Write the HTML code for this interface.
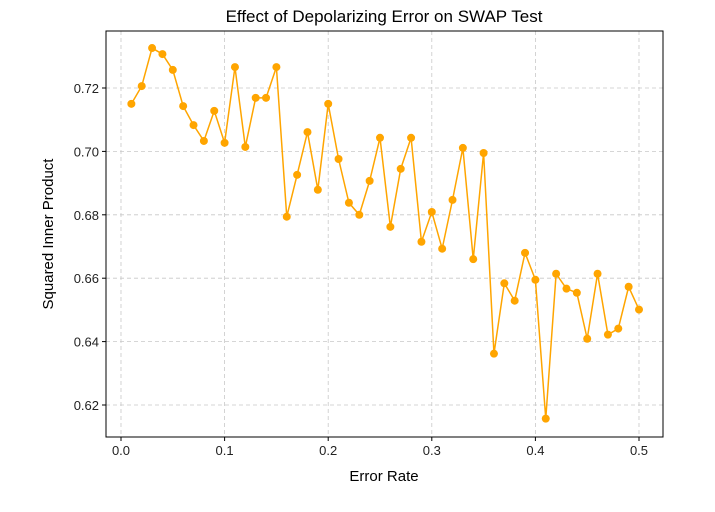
<!DOCTYPE html>
<html><head><meta charset="utf-8"><style>
body{margin:0;background:#fff;font-family:"Liberation Sans","DejaVu Sans",sans-serif;}
</style></head><body>
<svg id="chart" width="715" height="507" xmlns="http://www.w3.org/2000/svg"></svg>
<script>
const xValues=[0.01,0.02,0.03,0.04,0.05,0.06,0.07,0.08,0.09,0.10,0.11,0.12,0.13,0.14,0.15,0.16,0.17,0.18,0.19,0.20,0.21,0.22,0.23,0.24,0.25,0.26,0.27,0.28,0.29,0.30,0.31,0.32,0.33,0.34,0.35,0.36,0.37,0.38,0.39,0.40,0.41,0.42,0.43,0.44,0.45,0.46,0.47,0.48,0.49,0.50];
const yValues=[0.7150,0.7206,0.7326,0.7307,0.7257,0.7143,0.7083,0.7033,0.7128,0.7027,0.7266,0.7014,0.7169,0.7169,0.7266,0.6794,0.6926,0.7061,0.6879,0.7150,0.6976,0.6838,0.6800,0.6907,0.7043,0.6762,0.6945,0.7043,0.6715,0.6809,0.6693,0.6847,0.7011,0.6660,0.6995,0.6362,0.6584,0.6529,0.6680,0.6595,0.6157,0.6614,0.6567,0.6554,0.6409,0.6614,0.6422,0.6441,0.6573,0.6501];
const xTicks=[0,0.1,0.2,0.3,0.4,0.5];
const xTickLabels=["0.0","0.1","0.2","0.3","0.4","0.5"];
const yTicks=[0.62,0.64,0.66,0.68,0.70,0.72];
const yTickLabels=["0.62","0.64","0.66","0.68","0.70","0.72"];
const svg=document.getElementById('chart');
const NS='http://www.w3.org/2000/svg';
const L=106,R=663,T=31,B=437;
const X=v=>121+(v-0)*1036;
const Y=v=>88-(v-0.72)*3170;
function mk(t,a,p){const e=document.createElementNS(NS,t);for(const k in a)e.setAttribute(k,a[k]);(p||svg).appendChild(e);return e;}
xTicks.forEach((t,i)=>{
 const g=mk('line',{x1:X(t),x2:X(t),y1:T,y2:B,stroke:'#c8c8c8','stroke-dasharray':'4,3','stroke-width':0.8});
 
 mk('line',{x1:X(t),x2:X(t),y1:B,y2:B+4,stroke:'#000'});
 const tx=mk('text',{x:X(t),y:B+18,'text-anchor':'middle','font-size':13,fill:'#222'});tx.textContent=xTickLabels[i];
 
});
yTicks.forEach((t,i)=>{
 const g=mk('line',{x1:L,x2:R,y1:Y(t),y2:Y(t),stroke:'#c8c8c8','stroke-dasharray':'4,3','stroke-width':0.8});
 
 mk('line',{x1:L-4,x2:L,y1:Y(t),y2:Y(t),stroke:'#000'});
 const tx=mk('text',{x:L-7,y:Y(t)+5,'text-anchor':'end','font-size':13,fill:'#222'});tx.textContent=yTickLabels[i];
 
});
const fr=mk('rect',{x:L,y:T,width:R-L,height:B-T,fill:'none',stroke:'#000','stroke-width':1});

const pl=mk('polyline',{points:xValues.map((x,i)=>X(x)+','+Y(yValues[i])).join(' '),fill:'none',stroke:'#ffa500','stroke-width':1.5});

xValues.forEach((x,i)=>{const c=mk('circle',{cx:X(x),cy:Y(yValues[i]),r:4,fill:'#ffa500'});
 });
const ti=mk('text',{x:384,y:22,'text-anchor':'middle','font-size':17,fill:'#000'});ti.textContent='Effect of Depolarizing Error on SWAP Test';

const xl=mk('text',{x:384,y:481,'text-anchor':'middle','font-size':15,fill:'#000'});xl.textContent='Error Rate';

const yl=mk('text',{x:0,y:0,'text-anchor':'middle','font-size':15,fill:'#000',transform:'translate(53,234) rotate(-90)'});yl.textContent='Squared Inner Product';

</script>
</body></html>
